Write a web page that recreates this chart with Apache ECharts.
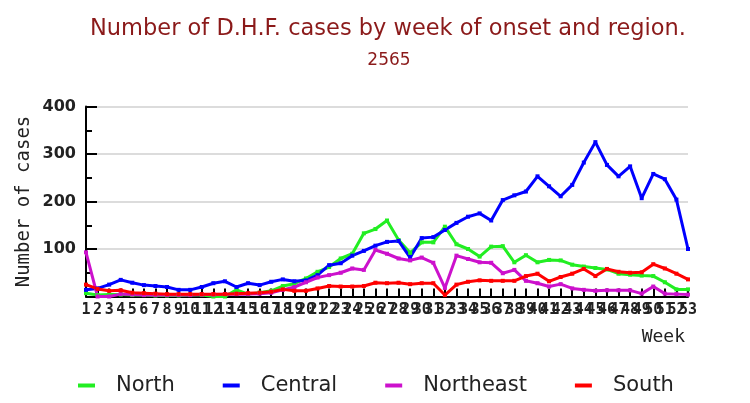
<!DOCTYPE html>
<html>
<head>
<meta charset="utf-8">
<script src="https://cdn.jsdelivr.net/npm/echarts@6/dist/echarts.min.js"></script>
<style>html,body{margin:0;padding:0;background:#fff}#c{width:750px;height:403px}</style>
</head>
<body>
<div id="c"></div>
<script>
var weeks = [];
for (var w = 1; w <= 53; w++) weeks.push(String(w));

var north = [7,3,4,4,3,3,2,2,2,3,3,0,0,14,5,8,12,22,27,38,52,62,80,90,133,142,160,119,92,114,114,147,110,100,84,105,106,72,87,72,77,76,67,63,60,57,48,46,44,43,30,15,15];
var central = [14,17,25,35,29,24,22,20,14,14,20,28,32,20,28,24,31,36,32,34,45,66,70,86,96,107,115,117,82,123,125,140,155,168,175,160,203,213,221,253,232,211,235,282,325,277,253,274,207,258,247,204,100];
var northeast = [93,0,0,5,4,3,3,3,3,3,4,4,5,5,5,6,8,14,20,30,40,45,50,59,56,98,90,80,76,82,71,18,86,79,72,71,49,56,33,28,21,26,17,14,12,13,13,13,6,21,6,5,4];
var south = [25,16,12,13,8,7,6,5,5,5,5,5,5,6,7,8,10,15,12,12,17,22,21,21,22,29,28,29,26,28,28,3,25,31,34,33,33,33,43,48,32,41,48,58,43,58,52,50,51,68,59,48,36];

var seriesNames = ['North', 'Central', 'Northeast', 'South'];
var seriesData = [north, central, northeast, south];
var seriesColors = ['#22ee22', '#0000ff', '#cc11cc', '#ff0000'];

var chart = echarts.init(document.getElementById('c'), null, {renderer: 'canvas'});
var series = seriesNames.map(function (n, i) {
  return {
    name: n,
    type: 'line',
    data: seriesData[i],
    symbol: 'rect',
    symbolSize: 4,
    showSymbol: true,
    lineStyle: {width: 3, color: seriesColors[i]},
    itemStyle: {color: seriesColors[i]},
    animation: false
  };
});

chart.setOption({
  animation: false,
  color: seriesColors,
  title: [
    {text: 'Number of D.H.F. cases by week of onset and region.', left: 388, top: 18, padding: 0, textAlign: 'center',
     textStyle: {fontFamily: 'DejaVu Sans', fontSize: 22.5, fontWeight: 'normal', color: '#8b1a1a'}},
    {text: '2565', left: 389, top: 52, padding: 0, textAlign: 'center',
     textStyle: {fontFamily: 'DejaVu Sans', fontSize: 17, fontWeight: 'normal', color: '#8b1a1a'}}
  ],
  legend: {
    data: seriesNames,
    left: 78, top: 375, padding: 0,
    icon: 'rect', itemWidth: 17, itemHeight: 4, itemGap: 48,
    textStyle: {fontFamily: 'DejaVu Sans', fontSize: 21, color: '#222', padding: [0, 0, 0, 16]}
  },
  grid: {left: 86, right: 62, top: 106.5, bottom: 106.5, containLabel: false},
  xAxis: {
    type: 'category', data: weeks, boundaryGap: false,
    name: 'Week', nameLocation: 'end', nameGap: 0,
    nameTextStyle: {fontFamily: 'DejaVu Sans Mono', fontSize: 18, color: '#222', align: 'right', verticalAlign: 'top', padding: [32, 3, 0, 0]},
    axisLine: {lineStyle: {color: '#000', width: 2}},
    axisTick: {inside: true, length: 8, alignWithLabel: true, interval: 0, lineStyle: {color: '#000', width: 2}},
    axisLabel: {interval: 0, margin: 6, fontFamily: 'DejaVu Sans Mono', fontWeight: 'bold', fontSize: 15, color: '#222'},
    splitLine: {show: false}
  },
  yAxis: {
    type: 'value', min: 0, max: 400, interval: 100,
    name: 'Number of cases', nameLocation: 'middle', nameGap: 52, nameRotate: 90,
    nameMoveOverlap: false,
    nameTextStyle: {fontFamily: 'DejaVu Sans Mono', fontSize: 19, color: '#222'},
    axisLine: {show: true, lineStyle: {color: '#000', width: 2}},
    axisTick: {show: true, inside: true, length: 11, lineStyle: {color: '#000', width: 2}},
    minorTick: {show: true, splitNumber: 2, length: 6, lineStyle: {color: '#000', width: 2}},
    axisLabel: {showMinLabel: false, margin: 10, fontFamily: 'DejaVu Sans', fontWeight: 'bold', fontSize: 16, color: '#222'},
    splitLine: {show: true, lineStyle: {color: '#dcdcdc', width: 2}},
    minorSplitLine: {show: false}
  },
  series: series
});
</script>
</body>
</html>
